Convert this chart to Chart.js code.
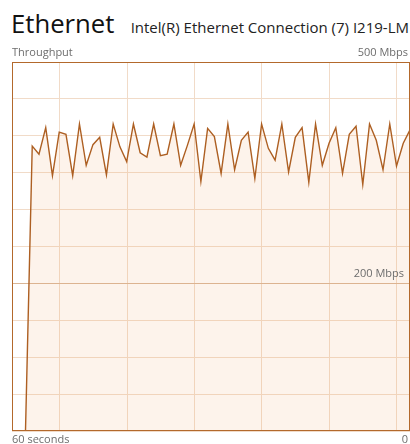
<!DOCTYPE html>
<html lang="en">
<head>
<meta charset="UTF-8">
<title>Ethernet</title>
<script src="https://cdn.jsdelivr.net/npm/chart.js@4"></script>
<style>
  * { margin: 0; padding: 0; box-sizing: border-box; }
  body { background: #fff; font-family: 'Open Sans', 'Noto Sans', sans-serif; }
  #wrap { position: relative; width: 410px; height: 444px; overflow: hidden; }
  #title { position: absolute; left: 11px; top: 6px; font-size: 25.7px; color: #111; font-weight: 400; white-space: nowrap; }
  #device { position: absolute; right: 1px; top: 17px; font-size: 15px; color: #222; white-space: nowrap; }
  canvas { position: absolute; left: 0; top: 0; }
</style>
</head>
<body>
<div id="wrap">
  <div id="title">Ethernet</div>
  <div id="device">Intel(R) Ethernet Connection (7) I219-LM</div>
  <canvas id="chart" width="410" height="444"></canvas>
</div>
<script>
// Throughput in Mbps, one sample per second, oldest first (60 samples)
const throughput = [
  null, null, 0, 386, 375, 411, 346, 405, 402, 346,
  416, 360, 388, 398, 347, 416, 385, 365, 416, 377,
  371, 416, 373, 375, 416, 360, 387, 416, 338, 410,
  399, 349, 416, 354, 394, 405, 342, 416, 383, 367,
  416, 351, 398, 411, 337, 416, 360, 390, 411, 349,
  402, 413, 334, 416, 394, 354, 416, 359, 390, 408
];
const yMax = 500;
const yStep = 50;
const markLine = 200;          // highlighted scale line
const gridSeconds = [7.1, 17.1, 27.05, 37.05, 47.05, 57.05];

const lineColor = '#ad5f22';
const borderColor = '#b3692c';
const gridColor = '#f1dbc8';
const markColor = '#d9b595';
const textColor = '#6d6d6d';

// frame around the plot plus the small captions
const captions = {
  id: 'captions',
  afterDraw(chart) {
    const { ctx, chartArea: a, scales } = chart;
    ctx.save();
    ctx.strokeStyle = borderColor;
    ctx.lineWidth = 1;
    ctx.strokeRect(a.left + 0.5, a.top + 0.5, a.right - a.left - 1, a.bottom - a.top - 1);

    ctx.fillStyle = textColor;
    ctx.font = '11px "Open Sans", sans-serif';
    ctx.textBaseline = 'alphabetic';
    ctx.textAlign = 'left';
    ctx.fillText('Throughput', a.left, a.top - 6);
    ctx.fillText('60 seconds', a.left, a.bottom + 12);
    ctx.textAlign = 'right';
    ctx.fillText(yMax + ' Mbps', a.right - 2, a.top - 6);
    ctx.fillText('0', a.right - 2, a.bottom + 12);
    ctx.fillText(markLine + ' Mbps', a.right - 6, scales.y.getPixelForValue(markLine) - 6);
    ctx.restore();
  }
};

new Chart(document.getElementById('chart'), {
  type: 'line',
  data: {
    labels: throughput.map((_, i) => i),
    datasets: [{
      data: throughput.map((v, i) => ({ x: i, y: v })),
      borderColor: lineColor,
      borderWidth: 1.4,
      backgroundColor: 'rgba(240,170,110,0.14)',
      fill: 'origin',
      pointRadius: 0,
      tension: 0,
      spanGaps: false,
    }]
  },
  options: {
    responsive: false,
    animation: false,
    events: [],
    layout: { padding: { left: 12, right: 0, top: 62, bottom: 13 } },
    plugins: { legend: { display: false }, tooltip: { enabled: false } },
    scales: {
      x: {
        type: 'linear',
        min: 0,
        max: throughput.length - 1,
        afterBuildTicks: axis => { axis.ticks = gridSeconds.map(v => ({ value: v })); },
        ticks: { display: false },
        grid: { color: gridColor, drawTicks: false },
        border: { display: false },
      },
      y: {
        min: 0,
        max: yMax,
        ticks: { display: false, stepSize: yStep },
        grid: {
          color: c => c.tick && c.tick.value === markLine ? markColor : gridColor,
          drawTicks: false,
        },
        border: { display: false },
      }
    }
  },
  plugins: [captions]
});
</script>
</body>
</html>
